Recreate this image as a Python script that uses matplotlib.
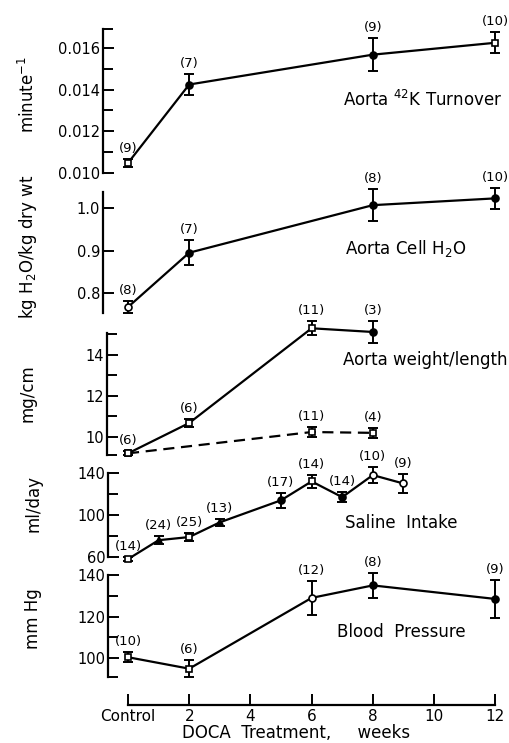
import matplotlib
matplotlib.use('Agg')
from matplotlib import pyplot as plt

"""
    Aorta / DOCA treatment time course, five stacked panels sharing the week axis.
"""

W, H = 510, 743

# ---- data ----
k_weeks = [0, 2, 8, 12]
k_turnover = [0.01048, 0.01424, 0.01567, 0.01624]
k_err = [0.0002, 0.0005, 0.0008, 0.0005]
k_n = [9, 7, 9, 10]

h2o_weeks = [0, 2, 8, 12]
h2o = [0.767, 0.895, 1.007, 1.023]
h2o_err = [0.014, 0.03, 0.037, 0.025]
h2o_n = [8, 7, 8, 10]

wl_weeks = [0, 2, 6, 8]
wl_doca = [9.2, 10.68, 15.3, 15.12]
wl_doca_err = [0.1, 0.2, 0.35, 0.55]
wl_doca_n = [6, 6, 11, 3]
wl_ctrl_weeks = [0, 6, 8]
wl_ctrl = [9.2, 10.24, 10.2]
wl_ctrl_err = [0.1, 0.25, 0.25]
wl_ctrl_n = [None, 11, 4]

saline_weeks = [0, 1, 2, 3, 5, 6, 7, 8, 9]
saline = [58, 76, 79, 93, 114, 132, 117, 138, 130]
saline_err = [2, 4, 4, 3, 7, 6, 5, 8, 9]
saline_n = [14, 24, 25, 13, 17, 14, 14, 10, 9]

bp_weeks = [0, 2, 6, 8, 12]
bp = [100.5, 95, 129, 135, 128.5]
bp_err = [2.4, 4, 8, 6, 9]
bp_n = [10, 6, 12, 8, 9]

x_ticks = [0, 2, 4, 6, 8, 10, 12]
x_labels = ['Control', '2', '4', '6', '8', '10', '12']

# ---- layout helpers (pixel based) ----
X0, XSCALE, XRIGHT = 128, 30.6, 505


def add_panel(fig, left, top, bottom, ylim):
    ax = fig.add_axes([left / W, 1 - bottom / H, (XRIGHT - left) / W, (bottom - top) / H])
    ax.set_xlim((left - X0) / XSCALE, (XRIGHT - X0) / XSCALE)
    ax.set_ylim(*ylim)
    for s in ['top', 'right', 'bottom']:
        ax.spines[s].set_visible(False)
    ax.spines['left'].set_linewidth(1.6)
    ax.set_xticks([])
    ax.tick_params(axis='y', which='major', direction='in', length=8, width=1.4,
                   labelsize=10.5, pad=2)
    ax.tick_params(axis='y', which='minor', direction='in', length=7, width=1.4)
    ax.patch.set_alpha(0)
    return ax


def draw_series(ax, x, y, err, n, markers, ls='-'):
    ax.errorbar(x, y, yerr=err, fmt='none', ecolor='k', elinewidth=1.4,
                capsize=3.5, capthick=1.4, clip_on=False)
    ax.plot(x, y, ls=ls, color='k', lw=1.6, clip_on=False,
            dashes=(5, 3) if ls == '--' else (None, None))
    for xi, yi, (m, fc) in zip(x, y, markers):
        ax.plot([xi], [yi], marker=m, ms=5, mfc=fc, mec='k', mew=1.2, clip_on=False, zorder=4)
    for xi, yi, ei, ni in zip(x, y, err, n):
        if ni is None:
            continue
        ax.annotate('(%d)' % ni, (xi, yi + ei), xytext=(0, 3), textcoords='offset points',
                    ha='center', va='bottom', fontsize=9.5, annotation_clip=False)


def ftext(fig, x, y, s, **kw):
    fig.text(x / W, 1 - y / H, s, **kw)


fig = plt.figure(figsize=(W / 100, H / 100), dpi=100)

O, F = ('s', 'w'), ('o', 'k')
C, T = ('o', 'w'), ('^', 'k')

# panel 1: 42K turnover
ax1 = add_panel(fig, 103, 29, 173, (0.0100, 0.0169))
ax1.set_yticks([0.010, 0.012, 0.014, 0.016])
ax1.set_yticklabels(['0.010', '0.012', '0.014', '0.016'])
ax1.set_yticks([0.011, 0.013, 0.015, 0.0169], minor=True)
draw_series(ax1, k_weeks, k_turnover, k_err, k_n, [O, F, F, O])

# panel 2: cell water
ax2 = add_panel(fig, 103, 192, 313, (0.753, 1.038))
ax2.set_yticks([0.8, 0.9, 1.0])
ax2.set_yticklabels(['0.8', '0.9', '1.0'])
draw_series(ax2, h2o_weeks, h2o, h2o_err, h2o_n, [C, F, F, F])

# panel 3: weight / length
ax3 = add_panel(fig, 107, 333, 455, (9.12, 15.07))
ax3.set_yticks([10, 12, 14])
ax3.set_yticks([9.12, 11, 13, 15], minor=True)
draw_series(ax3, wl_weeks, wl_doca, wl_doca_err, wl_doca_n, [O, O, O, F])
draw_series(ax3, wl_ctrl_weeks, wl_ctrl, wl_ctrl_err, wl_ctrl_n, [O, O, O], ls='--')

# panel 4: saline intake
ax4 = add_panel(fig, 108, 473, 557, (60, 140))
ax4.set_yticks([60, 100, 140])
ax4.set_yticks([80, 120], minor=True)
draw_series(ax4, saline_weeks, saline, saline_err, saline_n,
            [O, T, O, T, F, O, F, C, C])

# panel 5: blood pressure + shared week axis
ax5 = add_panel(fig, 108, 575, 677, (91, 140))
ax5.set_yticks([100, 120, 140])
ax5.set_yticks([91, 110, 130], minor=True)
draw_series(ax5, bp_weeks, bp, bp_err, bp_n, [O, O, C, F, F])
ax5.spines['bottom'].set_visible(True)
ax5.spines['bottom'].set_linewidth(1.6)
ax5.spines['bottom'].set_position(('outward', 20))
ax5.spines['bottom'].set_bounds(0, 12)
ax5.set_xticks(x_ticks)
ax5.set_xticklabels(x_labels)
ax5.tick_params(axis='x', direction='in', length=8, width=1.4, labelsize=11, pad=3)

# panel titles
title_kw = dict(fontsize=12, ha='left', va='center')
ftext(fig, 343, 100, r'Aorta $^{42}$K Turnover', **title_kw)
ftext(fig, 345, 248, r'Aorta Cell H$_2$O', **title_kw)
ftext(fig, 343, 360, 'Aorta weight/length', **title_kw)
ftext(fig, 345, 523, 'Saline  Intake', **title_kw)
ftext(fig, 337, 632, 'Blood  Pressure', **title_kw)

# y axis labels
ylab_kw = dict(fontsize=12, rotation=90, ha='center', va='center')
ftext(fig, 28, 95, r'minute$^{-1}$', **ylab_kw)
ftext(fig, 28, 247, r'kg H$_2$O/kg dry wt', **ylab_kw)
ftext(fig, 28, 393, 'mg/cm', **ylab_kw)
ftext(fig, 33, 503, 'ml/day', **ylab_kw)
ftext(fig, 33, 619, 'mm Hg', **ylab_kw)

ftext(fig, 296, 733, 'DOCA  Treatment,     weeks', fontsize=12, ha='center', va='center')

fig.savefig('out.png', dpi=100, facecolor='white')
